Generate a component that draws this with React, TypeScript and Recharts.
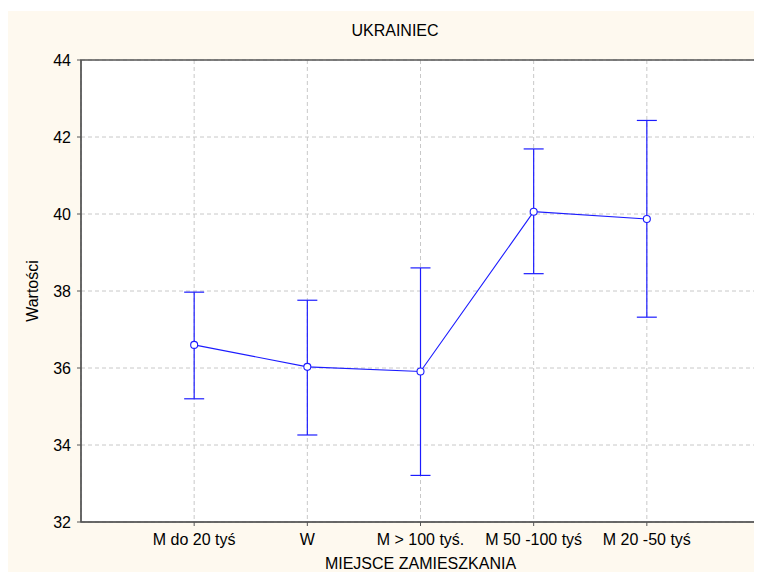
import React from 'react';
import {
  ComposedChart,
  Line,
  XAxis,
  YAxis,
  CartesianGrid,
  ErrorBar,
  ReferenceArea,
  Label,
} from 'recharts';

const categories = ['M do 20 tyś', 'W', 'M > 100 tyś.', 'M 50 -100 tyś', 'M 20 -50 tyś'];
const means = [36.6, 36.03, 35.91, 40.06, 39.87];
const lower = [35.2, 34.26, 33.21, 38.45, 37.32];
const upper = [37.97, 37.76, 38.6, 41.69, 42.43];
const yTicks = [32, 34, 36, 38, 40, 42, 44];
const xTicks = [1, 2, 3, 4, 5];

const data = categories.map((name, i) => ({
  x: i + 1,
  name,
  mean: means[i],
  err: [means[i] - lower[i], upper[i] - means[i]],
}));

const BLUE = '#1c1cff';
const font = { fontFamily: '"Liberation Sans", Arial, sans-serif', fontSize: 16, fill: '#000' };

const App: React.FC = () => {
  return (
    <div style={{ margin: -8, width: 762, height: 580, background: '#fff', position: 'relative' }}>
      <div
        style={{ position: 'absolute', left: 8, top: 11, width: 754, height: 569, background: '#fef9ef' }}
      />
      <div
        style={{
          position: 'absolute',
          left: 335,
          top: 22,
          width: 120,
          textAlign: 'center',
          fontFamily: '"Liberation Sans", Arial, sans-serif',
          fontSize: 16,
          color: '#000',
          whiteSpace: 'nowrap',
        }}
      >
        UKRAINIEC
      </div>
      <div style={{ position: 'absolute', left: 0, top: 0 }}>
        <ComposedChart
          width={762}
          height={580}
          data={data}
          margin={{ top: 60, right: 2, bottom: 26, left: 0 }}
        >
          <CartesianGrid stroke="#c8c8c8" strokeDasharray="4 3" fill="#fff" />
          <XAxis
            dataKey="x"
            type="number"
            domain={[0, 6]}
            ticks={xTicks}
            tickFormatter={(v: number) => categories[v - 1]}
            tick={font}
            tickSize={4}
            tickMargin={8}
            stroke="#555"
            height={32}
            interval={0}
          >
            <Label value="MIEJSCE ZAMIESZKANIA" position="bottom" offset={4} style={font} />
          </XAxis>
          <YAxis
            type="number"
            domain={[32, 44]}
            ticks={yTicks}
            tick={font}
            tickSize={4}
            tickMargin={6}
            stroke="#555"
            width={81}
          >
            <Label
              value="Wartości"
              angle={-90}
              position="insideLeft"
              offset={32}
              style={{ ...font, textAnchor: 'middle' }}
            />
          </YAxis>
          <ReferenceArea x1={0} x2={6} y1={32} y2={44} fill="none" stroke="#555" strokeWidth={1.5} />
          <Line
            dataKey="mean"
            stroke={BLUE}
            strokeWidth={1.1}
            dot={{ r: 3.5, fill: '#fff', stroke: BLUE, strokeWidth: 1.1 }}
            isAnimationActive={false}
          >
            <ErrorBar dataKey="err" direction="y" width={10} stroke={BLUE} strokeWidth={1.2} />
          </Line>
        </ComposedChart>
      </div>
    </div>
  );
};

export default App;
